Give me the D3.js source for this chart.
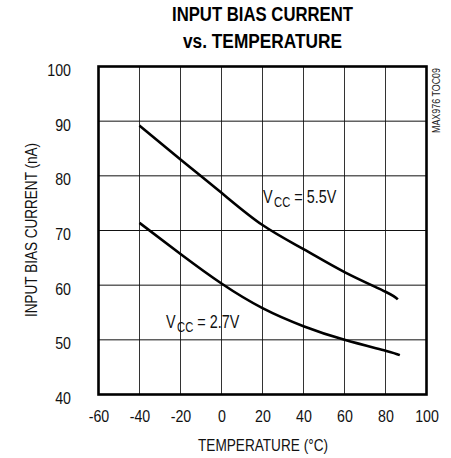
<!DOCTYPE html>
<html><head><meta charset="utf-8">
<script src="https://cdn.jsdelivr.net/npm/d3@7"></script>
<style>body{margin:0;background:#fff}text{font-family:"Liberation Sans",Arial,sans-serif}</style>
</head><body><svg id="c" width="451" height="458"></svg>
<script>
const xTicks = [-60,-40,-20,0,20,40,60,80,100];
const yTicks = [40,50,60,70,80,90,100];
const temp55 = [-40,-20,0,20,40,60,80,86];
const ibias55 = [89.2,83.0,76.9,71.0,66.6,62.4,58.8,57.4];
const temp27 = [-40,-20,0,20,40,60,80,87];
const ibias27 = [71.4,65.7,60.3,55.8,52.5,50.0,48.0,47.2];

const svg = d3.select("#c");
const L=98.5,R=426.5,T=66.5,B=394.5;
const x = d3.scaleLinear().domain([-60,100]).range([L,R]);
const y = d3.scaleLinear().domain([40,100]).range([B,T]);

function condense(sel, f){
  sel.each(function(){
    const w = this.getComputedTextLength();
    d3.select(this).attr("textLength", w*f).attr("lengthAdjust","spacingAndGlyphs");
  });
}

// grid
svg.append("g").selectAll("line").data(xTicks.slice(1,-1)).join("line")
 .attr("x1",d=>x(d)).attr("x2",d=>x(d)).attr("y1",T).attr("y2",B)
 .attr("stroke","#333").attr("stroke-width",1);
svg.append("g").selectAll("line").data(yTicks.slice(1,-1)).join("line")
 .attr("y1",d=>y(d)).attr("y2",d=>y(d)).attr("x1",L).attr("x2",R)
 .attr("stroke","#111").attr("stroke-width",1);
svg.append("rect").attr("x",L).attr("y",T).attr("width",R-L).attr("height",B-T)
 .attr("fill","none").attr("stroke","#000").attr("stroke-width",2.6);

// axes labels
const xa = d3.axisBottom(x).tickValues(xTicks).tickSize(0).tickPadding(16).tickFormat(d=>String(d));
const gx = svg.append("g").attr("transform",`translate(0,${B})`).call(xa);
gx.select(".domain").remove();
gx.selectAll("text").attr("font-size",16.5).attr("fill","#111").attr("font-family","Liberation Sans");
condense(gx.selectAll("text"),0.86);
const ya = d3.axisLeft(y).tickValues(yTicks).tickSize(0).tickPadding(27.5);
const gy = svg.append("g").attr("transform",`translate(${L},0)`).call(ya);
gy.select(".domain").remove();
gy.selectAll("text").attr("font-size",16.5).attr("fill","#111").attr("dy","0.55em").attr("font-family","Liberation Sans");
condense(gy.selectAll("text"),0.86);

// curves
const line = d3.line().x(d=>x(d[0])).y(d=>y(d[1])).curve(d3.curveNatural);
svg.append("path").datum(temp55.map((t,i)=>[t,ibias55[i]])).attr("d",line)
 .attr("fill","none").attr("stroke","#000").attr("stroke-width",2.6);
svg.append("path").datum(temp27.map((t,i)=>[t,ibias27[i]])).attr("d",line)
 .attr("fill","none").attr("stroke","#000").attr("stroke-width",2.6);

// curve labels (separate pieces so nothing overlaps)
function vlab(px,py,val){
  const f = 0.8;
  let cx = px;
  const parts = [["V",18,0],["CC",14,3.5],["= "+val,18,0]];
  parts.forEach(([s,fs,dy],i)=>{
    const t = svg.append("text").attr("x",cx).attr("y",py+dy).attr("font-size",fs).attr("fill","#111").text(s);
    const w = t.node().getComputedTextLength()*f;
    t.attr("textLength",w).attr("lengthAdjust","spacingAndGlyphs");
    cx += w + (i===1 ? 4 : 1.5);
  });
}
vlab(263,203.3,"5.5V");
vlab(166,328.3,"2.7V");

// titles
svg.append("text").attr("x",172).attr("y",21).attr("textLength",181).attr("lengthAdjust","spacingAndGlyphs")
 .attr("font-size",19.5).attr("font-weight","bold").text("INPUT BIAS CURRENT");
svg.append("text").attr("x",183).attr("y",48).attr("textLength",159).attr("lengthAdjust","spacingAndGlyphs")
 .attr("font-size",19.5).attr("font-weight","bold").text("vs. TEMPERATURE");
svg.append("text").attr("x",198).attr("y",451).attr("textLength",130).attr("lengthAdjust","spacingAndGlyphs")
 .attr("font-size",16.5).attr("fill","#111").text("TEMPERATURE (°C)");
svg.append("text").attr("transform",`translate(37,317) rotate(-90)`).attr("textLength",174).attr("lengthAdjust","spacingAndGlyphs")
 .attr("font-size",16.5).attr("fill","#111").text("INPUT BIAS CURRENT (nA)");
svg.append("text").attr("transform",`translate(440,133) rotate(-90)`).attr("textLength",65).attr("lengthAdjust","spacingAndGlyphs")
 .attr("font-size",10.5).attr("fill","#222").text("MAX976 TOC09");
</script></body></html>
